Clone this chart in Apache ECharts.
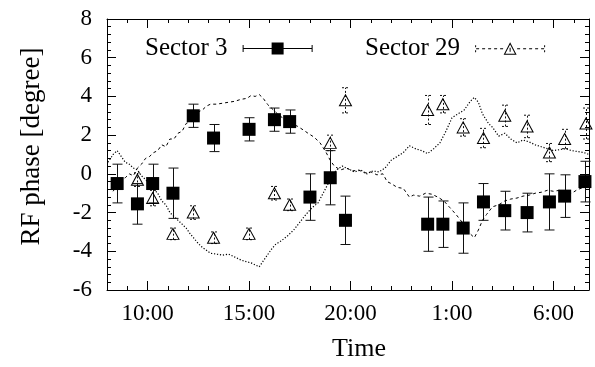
<!DOCTYPE html>
<html>
<head>
<meta charset="utf-8">
<script src="https://cdn.jsdelivr.net/npm/echarts@6/dist/echarts.min.js"></script>
<style>
  html, body { margin: 0; padding: 0; background: #fff; }
  #chart { width: 595px; height: 367px; }
</style>
</head>
<body>
<div id="chart"></div>
<script>
// time in hours since midnight of the first day (25 = 1:00 next day)
var s3Time  = [8.5, 9.5, 10.25, 11.25, 12.25, 13.25, 15.0, 16.25, 17.0, 18.0, 19.0, 19.75, 23.8, 24.55, 25.55, 26.55, 27.6, 28.7, 29.8, 30.55, 31.55];
var s3Phase = [-0.5, -1.55, -0.5, -1.0, 3.0, 1.85, 2.3, 2.8, 2.7, -1.2, -0.2, -2.4, -2.6, -2.6, -2.8, -1.45, -1.9, -2.0, -1.45, -1.15, -0.4];
var s3Err   = [1.0, 1.05, 1.0, 1.3, 0.6, 0.7, 0.6, 0.6, 0.6, 1.2, 1.4, 1.25, 1.4, 1.2, 1.3, 0.95, 1.0, 1.0, 1.45, 1.1, 1.05];

var s29Time  = [9.5, 10.25, 11.25, 12.25, 13.25, 15.0, 16.25, 17.0, 19.0, 19.75, 23.8, 24.55, 25.55, 26.55, 27.6, 28.7, 29.8, 30.55, 31.6];
var s29Phase = [-0.3, -1.25, -3.1, -2.0, -3.3, -3.1, -1.0, -1.6, 1.6, 3.8, 3.3, 3.6, 2.4, 1.85, 3.0, 2.45, 1.1, 1.8, 2.6];
var s29Err   = [0.35, 0.4, 0.3, 0.35, 0.3, 0.3, 0.35, 0.3, 0.4, 0.65, 0.75, 0.45, 0.45, 0.5, 0.55, 0.58, 0.47, 0.5, 0.8];

// continuous traces (dashed and dotted)
var dashTime  = [8.3, 8.5, 8.7, 8.9, 9.1, 9.3, 9.5, 9.7, 9.9, 10.1, 10.3, 10.5, 10.7, 10.9, 11.1, 11.3, 11.5, 11.7, 11.9, 12.1, 12.3, 12.5, 12.7, 12.9, 13.1, 13.4, 13.7, 14.0, 14.3, 14.6, 14.9, 15.1, 15.3, 15.5, 15.7, 15.9, 16.1, 16.3, 16.5, 16.8, 17.1, 17.4, 17.7, 17.9, 18.2, 18.5, 18.8, 19.0, 19.2, 19.5, 19.8, 20.1, 20.4, 20.7, 21.0, 21.3, 21.6, 21.8, 22.0, 22.3, 22.6, 22.9, 23.1, 23.4, 23.7, 24.0, 24.3, 24.6, 24.9, 25.2, 25.5, 25.8, 26.1, 26.3, 26.5, 26.7, 27.0, 27.3, 27.6, 27.9, 28.2, 28.5, 28.8, 29.1, 29.4, 29.7, 30.0, 30.3, 30.6, 30.9, 31.2, 31.5, 31.75];
var dashPhase = [-0.9, -0.6, -0.3, -0.2, 0.0, -0.1, 0.3, 0.5, 0.8, 0.9, 1.1, 1.2, 1.5, 1.4, 1.8, 1.8, 2.1, 2.2, 2.6, 2.7, 3.0, 3.2, 3.3, 3.5, 3.6, 3.6, 3.65, 3.7, 3.75, 3.85, 3.9, 4.05, 4.0, 4.1, 3.9, 3.6, 3.4, 3.2, 3.0, 2.8, 2.6, 2.45, 2.25, 2.1, 1.9, 1.6, 1.1, 0.7, 0.4, 0.2, 0.3, 0.15, 0.2, 0.05, 0.1, -0.05, 0.0, -0.4, -0.5, -0.7, -0.75, -1.2, -1.1, -1.15, -1.0, -1.05, -1.2, -1.4, -1.75, -2.1, -2.5, -3.0, -3.3, -2.9, -2.4, -2.1, -1.7, -1.6, -1.4, -1.3, -1.25, -1.15, -1.1, -1.0, -0.95, -0.85, -0.9, -0.85, -0.9, -1.0, -0.8, -0.7, -0.6];

var dotTime  = [8.05, 8.3, 8.5, 8.7, 8.9, 9.1, 9.3, 9.5, 9.7, 9.9, 10.1, 10.3, 10.5, 10.7, 10.9, 11.1, 11.3, 11.5, 11.7, 11.9, 12.1, 12.3, 12.5, 12.7, 12.9, 13.1, 13.4, 13.7, 14.0, 14.3, 14.6, 14.9, 15.1, 15.3, 15.5, 15.7, 15.9, 16.1, 16.3, 16.6, 16.9, 17.2, 17.5, 17.8, 18.1, 18.4, 18.7, 18.9, 19.1, 19.3, 19.6, 19.9, 20.2, 20.5, 20.8, 21.1, 21.4, 21.7, 22.0, 22.3, 22.6, 22.9, 23.2, 23.5, 23.8, 24.1, 24.4, 24.7, 25.0, 25.3, 25.6, 25.9, 26.1, 26.3, 26.5, 26.8, 27.0, 27.3, 27.6, 27.9, 28.2, 28.5, 28.8, 29.1, 29.4, 29.7, 30.0, 30.3, 30.6, 30.9, 31.2, 31.5, 31.75];
var dotPhase = [0.6, 1.0, 1.2, 0.9, 0.6, 0.5, 0.3, 0.2, -0.1, -0.3, -0.5, -0.8, -1.0, -1.4, -1.6, -2.0, -2.2, -2.4, -2.6, -2.8, -3.1, -3.35, -3.6, -3.8, -3.95, -4.1, -4.15, -4.2, -4.15, -4.3, -4.45, -4.55, -4.6, -4.7, -4.8, -4.5, -4.2, -3.9, -3.65, -3.45, -3.2, -2.9, -2.5, -2.1, -1.75, -1.5, -0.9, -0.5, -0.1, 0.2, 0.4, 0.25, 0.1, 0.2, 0.0, 0.15, 0.1, 0.3, 0.7, 0.9, 1.1, 1.45, 1.3, 1.2, 1.05, 1.3, 1.6, 2.2, 2.9, 3.1, 3.3, 3.75, 3.95, 3.7, 3.1, 2.6, 2.4, 1.95, 2.1, 1.8, 1.6, 1.75, 1.65, 1.5, 1.4, 1.3, 1.2, 1.25, 1.3, 1.2, 1.15, 1.1, 1.0];

var timeTicks = [10, 15, 20, 25, 30];

var FONT = 'Liberation Serif';

function zip(a, b) {
    return a.map(function (v, i) { return [v, b[i]]; });
}
function bars(t, v, e) {
    return t.map(function (x, i) { return [x, v[i] - e[i], v[i] + e[i]]; });
}

function errorBar(cap, dash) {
    return function (params, api) {
        var lo = api.coord([api.value(0), api.value(1)]);
        var hi = api.coord([api.value(0), api.value(2)]);
        var x = Math.round(lo[0]) + 0.5;
        var style = { stroke: '#111', lineWidth: 1, lineDash: dash };
        return {
            type: 'group',
            children: [
                { type: 'line', shape: { x1: x, y1: lo[1], x2: x, y2: hi[1] }, style: style },
                { type: 'line', shape: { x1: x - cap, y1: lo[1], x2: x + cap, y2: lo[1] }, style: style },
                { type: 'line', shape: { x1: x - cap, y1: hi[1], x2: x + cap, y2: hi[1] }, style: style }
            ]
        };
    };
}

var chart = echarts.init(document.getElementById('chart'));

var axisColor = { color: '#000', width: 1 };

var option = {
    animation: false,
    backgroundColor: '#fff',
    grid: { left: 107, right: 6, top: 19, bottom: 76 },
    legend: [
        {
            left: 145, top: 36, padding: 0, align: 'right',
            itemWidth: 70, itemHeight: 13,
            textStyle: { fontFamily: FONT, fontSize: 25, color: '#000', padding: [0, 10, 0, 0] },
            data: [{
                name: 'Sector 3',
                icon: 'path://M0 2.5H1V9.5H0Z M1 5.5H29V6.5H1Z M29 0H41V12H29Z M41 5.5H69V6.5H41Z M69 2.5H70V9.5H69Z',
                itemStyle: { color: '#000', borderWidth: 0 }
            }]
        },
        {
            left: 365, top: 36, padding: 0, align: 'right',
            itemWidth: 70, itemHeight: 13,
            textStyle: { fontFamily: FONT, fontSize: 25, color: '#000', padding: [0, 10, 0, 0] },
            data: [{
                name: 'Sector 29',
                icon: 'path://M0 3.5H1V5.5H0Z M0 8.5H1V10.5H0Z M1 6.5H4V7.5H1Z M7 6.5H10V7.5H7Z M13 6.5H16V7.5H13Z M19 6.5H22V7.5H19Z M25 6.5H28V7.5H25Z M35 0.5L41.5 13L28.5 13Z M35 2.7L30.2 12L39.8 12Z M34.5 6H35.5V10H34.5Z M42 6.5H45V7.5H42Z M48 6.5H51V7.5H48Z M54 6.5H57V7.5H54Z M60 6.5H63V7.5H60Z M66 6.5H69V7.5H66Z M69 3.5H70V5.5H69Z M69 8.5H70V10.5H69Z',
                itemStyle: { color: '#000', borderWidth: 0 }
            }]
        }
    ],
    xAxis: [
        {
            type: 'value', position: 'bottom', min: 8, max: 31.75,
            name: 'Time', nameLocation: 'middle', nameGap: 46,
            nameTextStyle: { fontFamily: FONT, fontSize: 26, color: '#000', padding: [0, 0, 0, 22] },
            axisLine: { onZero: false, lineStyle: axisColor },
            axisTick: { inside: true, length: 9, customValues: timeTicks, lineStyle: axisColor },
            axisLabel: {
                customValues: timeTicks, margin: 12,
                fontFamily: FONT, fontSize: 23, color: '#000',
                formatter: function (v) { return (v % 24) + ':00'; }
            },
            splitLine: { show: false }
        },
        {
            type: 'value', position: 'bottom', min: 8, max: 31.75, interval: 1,
            axisLine: { show: false, onZero: false },
            axisTick: { inside: true, length: 4, lineStyle: axisColor },
            axisLabel: { show: false },
            splitLine: { show: false }
        },
        {
            type: 'value', position: 'top', min: 8, max: 31.75,
            axisLine: { onZero: false, lineStyle: axisColor },
            axisTick: { inside: true, length: 9, customValues: timeTicks, lineStyle: axisColor },
            axisLabel: { show: false },
            splitLine: { show: false }
        },
        {
            type: 'value', position: 'top', min: 8, max: 31.75, interval: 1,
            axisLine: { show: false, onZero: false },
            axisTick: { inside: true, length: 4, lineStyle: axisColor },
            axisLabel: { show: false },
            splitLine: { show: false }
        }
    ],
    yAxis: [
        {
            type: 'value', position: 'left', min: -6, max: 8, interval: 2,
            name: 'RF phase [degree]', nameLocation: 'middle', nameGap: 62,
            nameTextStyle: { fontFamily: FONT, fontSize: 27, color: '#000', padding: [0, 0, 0, 16] },
            axisLine: { show: true, onZero: false, lineStyle: axisColor },
            axisTick: { show: true, inside: true, length: 9, lineStyle: axisColor },
            minorTick: { show: true, splitNumber: 5, length: 4, lineStyle: axisColor },
            axisLabel: { margin: 15, fontFamily: FONT, fontSize: 23, color: '#000' },
            splitLine: { show: false }
        },
        {
            type: 'value', position: 'right', min: -6, max: 8, interval: 2,
            axisLine: { show: true, onZero: false, lineStyle: axisColor },
            axisTick: { show: true, inside: true, length: 9, lineStyle: axisColor },
            minorTick: { show: true, splitNumber: 5, length: 4, lineStyle: axisColor },
            axisLabel: { show: false },
            splitLine: { show: false }
        }
    ],
    series: [
        {
            name: 'trace 3', type: 'line', data: zip(dashTime, dashPhase),
            showSymbol: false, silent: true,
            lineStyle: { color: '#000', width: 1, type: [3, 3] }
        },
        {
            name: 'trace 29', type: 'line', data: zip(dotTime, dotPhase),
            showSymbol: false, silent: true,
            lineStyle: { color: '#000', width: 1.2, type: [1.2, 1.8] }
        },
        {
            name: 'err 3', type: 'custom', data: bars(s3Time, s3Phase, s3Err),
            renderItem: errorBar(5, null), silent: true
        },
        {
            name: 'err 29', type: 'custom', data: bars(s29Time, s29Phase, s29Err),
            renderItem: errorBar(3.5, [2, 2]), silent: true
        },
        {
            name: 'Sector 3', type: 'scatter', data: zip(s3Time, s3Phase),
            symbol: 'rect', symbolSize: 13,
            itemStyle: { color: '#000', opacity: 1 }
        },
        {
            name: 'Sector 29', type: 'scatter', data: zip(s29Time, s29Phase),
            symbol: 'triangle', symbolSize: [12, 11],
            itemStyle: { color: 'transparent', borderColor: '#000', borderWidth: 1, opacity: 1 }
        }
    ]
};

chart.setOption(option);
</script>
</body>
</html>
